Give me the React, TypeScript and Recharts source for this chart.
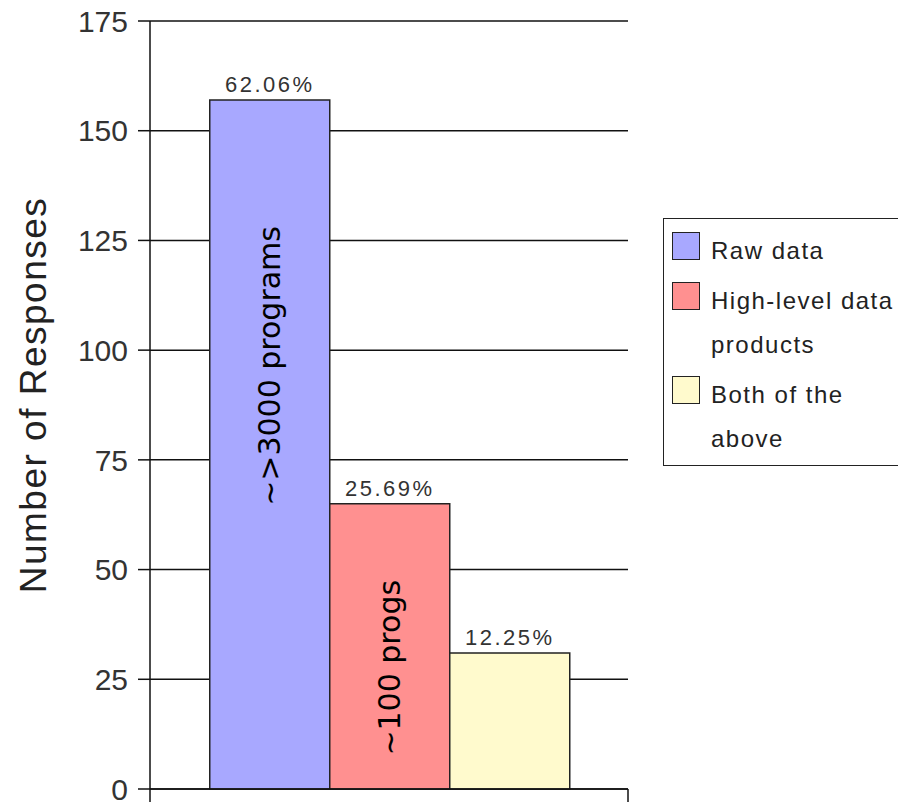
import { BarChart, Bar, XAxis, YAxis, CartesianGrid, LabelList } from 'recharts'

const categories = ['Raw data', 'High-level data products', 'Both of the above']
const responses = [157, 65, 31]
const percentLabels = ['62.06%', '25.69%', '12.25%']
const annotations = ['~>3000 programs', '~100 progs', '']
const yTicks = [0, 25, 50, 75, 100, 125, 150, 175]

const colors = ['#a8a8ff', '#ff9090', '#fffacd']
// where the rotated note sits, as a share of the bar's height from its top
const noteCenter = [0.386, 0.575, 0.5]
const FONT = '"Liberation Sans", Arial, Helvetica, sans-serif'
const keys = ['raw', 'high', 'both']

const row: Record<string, number | string> = { name: 'responses' }
keys.forEach((k, i) => {
  row[k] = responses[i]
})
const data = [row]

function Note({ i }: { i: number }) {
  return (props: any) => {
    const { x, y, width, height } = props
    if (!annotations[i]) return null
    const cx = Number(x) + Number(width) / 2
    const cy = Number(y) + Number(height) * noteCenter[i]
    return (
      <text
        x={cx}
        y={cy}
        transform={`rotate(-90, ${cx}, ${cy})`}
        textAnchor="middle"
        dominantBaseline="central"
        fontFamily='"DejaVu Sans", sans-serif'
        fontSize={30}
        fill="#000"
      >
        {annotations[i]}
      </text>
    )
  }
}

// one category fills the whole axis, so its band edges are the plot edges
function EdgeTicks(props: any) {
  const { x, y, width } = props
  const left = Number(x) - Number(width) / 2
  const right = Number(x) + Number(width) / 2
  const top = Number(y)
  return (
    <g>
      <line x1={left} x2={left} y1={top} y2={top + 13} stroke="#111" strokeWidth={1.5} />
      <line x1={right} x2={right} y1={top} y2={top + 13} stroke="#111" strokeWidth={1.5} />
    </g>
  )
}

function YLabel(props: any) {
  const vb = props.viewBox
  const cx = vb.x + 33
  const cy = vb.y + vb.height / 2 - 10
  return (
    <text
      x={cx}
      y={cy}
      transform={`rotate(-90, ${cx}, ${cy})`}
      textAnchor="middle"
      dominantBaseline="central"
      fontFamily={FONT}
      fontSize={37}
      letterSpacing={1.5}
      fill="#222"
    >
      Number of Responses
    </text>
  )
}

function LegendBox() {
  return (
    <div
      style={{
        position: 'absolute',
        left: 663,
        top: 218,
        width: 235,
        height: 248,
        border: '1.5px solid #222',
        borderRight: 'none',
        padding: '10px 0 0 8px',
        boxSizing: 'border-box',
        fontFamily: FONT,
        fontSize: 24,
        letterSpacing: 1.5,
        color: '#222',
      }}
    >
      {categories.map((c, i) => (
        <div key={c} style={{ display: 'flex', alignItems: 'flex-start', marginBottom: 6 }}>
          <div
            style={{
              width: 28,
              height: 28,
              marginTop: 3,
              background: colors[i],
              border: '1.5px solid #222',
              boxSizing: 'border-box',
              flexShrink: 0,
            }}
          />
          <div style={{ marginLeft: 11, width: 188, lineHeight: '44px' }}>{c}</div>
        </div>
      ))}
    </div>
  )
}

export default function App() {
  return (
    <div
      style={{
        position: 'absolute',
        left: 0,
        top: 0,
        width: 898,
        height: 802,
        overflow: 'hidden',
        background: '#fff',
      }}
    >
      <BarChart
        width={898}
        height={802}
        data={data}
        margin={{ top: 21, right: 270, bottom: 0, left: 0 }}
        barGap={0}
        barCategoryGap="12.5%"
      >
        <CartesianGrid vertical={false} stroke="#111" strokeWidth={1.5} />
        <XAxis
          dataKey="name"
          height={13}
          tickLine={false}
          tickSize={0}
          tickMargin={0}
          stroke="#111"
          strokeWidth={1.5}
          tick={<EdgeTicks />}
          interval={0}
        />
        <YAxis
          domain={[0, 175]}
          ticks={yTicks}
          interval={0}
          width={150}
          tickSize={12}
          tickMargin={10}
          stroke="#111"
          strokeWidth={1.5}
          tick={{ fontSize: 30, fontFamily: FONT, fill: '#333' }}
          label={<YLabel />}
        />
        {keys.map((k, i) => (
          <Bar
            key={k}
            dataKey={k}
            name={categories[i]}
            fill={colors[i]}
            stroke="#222"
            strokeWidth={1.5}
            isAnimationActive={false}
          >
            <LabelList
              position="top"
              offset={8}
              formatter={() => percentLabels[i]}
              style={{ fontSize: 22, fontFamily: FONT, fill: '#333', letterSpacing: 2.5 }}
            />
            <LabelList content={Note({ i })} />
          </Bar>
        ))}
      </BarChart>
      <LegendBox />
    </div>
  )
}
